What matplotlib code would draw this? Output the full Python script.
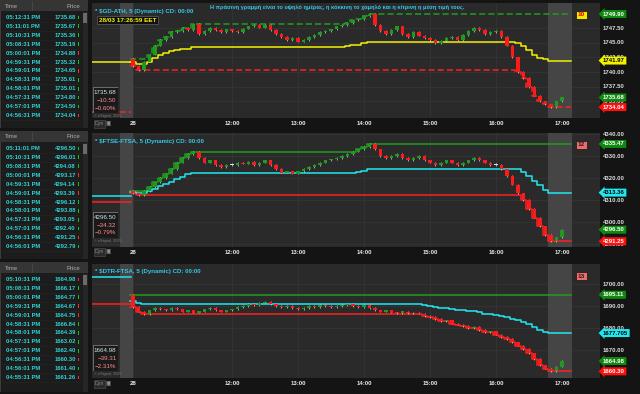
import numpy as np
import matplotlib
matplotlib.use("Agg")
import matplotlib.pyplot as plt
from matplotlib.patches import Rectangle
import matplotlib.transforms as mtrans

plt.rcParams['font.family'] = ['Liberation Sans', 'DejaVu Sans']

# ---------------- data ----------------
tick_hours = [10.5, 12, 13, 14, 15, 16, 17]
tick_labels = ['28', '12:00', '13:00', '14:00', '15:00', '16:00', '17:00']
bar_minutes = 5

ath_open = 1742.3
ath_close = [1741.0, 1740.4, 1741.8, 1743.0, 1744.5, 1745.5,
             1746.0, 1746.8, 1747.0, 1747.6, 1747.2, 1748.2,
             1746.5, 1747.0, 1747.5, 1747.2, 1746.8, 1747.3,
             1747.0, 1746.8, 1747.4, 1747.8, 1748.0, 1747.6,
             1748.0, 1747.2, 1746.5, 1746.0, 1745.5, 1745.8,
             1745.2, 1745.5, 1746.0, 1746.3, 1746.8, 1747.0,
             1747.3, 1747.8, 1748.0, 1748.4, 1748.8, 1749.0,
             1749.5, 1749.9, 1748.0, 1747.0, 1746.5, 1747.2,
             1747.8, 1746.5, 1746.0, 1746.8, 1746.2, 1745.8,
             1745.5, 1745.0, 1745.3, 1745.8, 1746.0, 1745.5,
             1746.3, 1747.0, 1747.5, 1747.2, 1746.5, 1746.8,
             1747.0, 1746.0, 1744.5, 1742.5, 1740.0, 1739.0,
             1737.5, 1736.0, 1735.0, 1734.5, 1734.04, 1735.0, 1735.68]

ftse_open = 4314.0
ftse_close = [4313.0, 4312.3, 4314.0, 4316.0, 4318.0, 4320.0,
              4322.0, 4324.0, 4327.0, 4329.0, 4331.0, 4331.8,
              4329.0, 4327.0, 4328.0, 4326.0, 4325.0, 4326.0,
              4326.0, 4327.0, 4326.5, 4327.5, 4326.0, 4327.0,
              4328.0, 4326.0, 4324.0, 4322.5, 4323.0, 4322.0,
              4323.0, 4324.0, 4325.0, 4326.0, 4327.0, 4328.0,
              4328.5, 4329.0, 4330.0, 4331.0, 4332.0, 4333.0,
              4334.0, 4335.47, 4333.0, 4330.0, 4329.0, 4330.0,
              4331.0, 4329.0, 4328.0, 4329.0, 4330.0, 4328.0,
              4327.0, 4326.0, 4327.0, 4328.0, 4327.0, 4326.0,
              4327.0, 4328.0, 4329.0, 4328.0, 4327.0, 4326.0,
              4326.0, 4324.0, 4321.0, 4317.0, 4313.0, 4310.0,
              4306.0, 4302.0, 4298.0, 4294.0, 4291.25, 4293.0, 4296.5]

dtr_open = 1695.11
dtr_close = [1689.5, 1687.5, 1686.4, 1688.0, 1689.0, 1688.5,
             1688.0, 1689.0, 1688.5, 1687.5, 1688.0, 1687.0,
             1687.5, 1688.5, 1689.0, 1688.0, 1687.5, 1688.0,
             1688.5, 1689.5, 1690.0, 1691.0, 1690.5, 1691.5,
             1692.0, 1691.0, 1690.0, 1689.5, 1690.0, 1689.0,
             1688.5, 1689.0, 1690.0, 1689.5, 1690.5, 1690.0,
             1689.5, 1690.0, 1690.5, 1691.0, 1690.0, 1689.5,
             1690.5, 1689.0, 1688.0, 1687.5, 1688.0, 1687.0,
             1686.8, 1687.5, 1686.6, 1687.0, 1686.5, 1685.5,
             1685.0, 1684.0, 1683.0, 1683.5, 1682.0, 1681.5,
             1681.0, 1680.0, 1680.5, 1679.0, 1678.0, 1678.5,
             1677.0, 1676.0, 1675.0, 1673.5, 1672.0, 1670.5,
             1668.5, 1666.0, 1663.0, 1661.5, 1660.3, 1662.5, 1664.98]

ath_ticks = [1747.5, 1745.0, 1742.5, 1740.0, 1737.5, 1735.0]
ftse_ticks = [4340.0, 4330.0, 4320.0, 4310.0, 4300.0, 4290.0]
dtr_ticks = [1700.0, 1690.0, 1680.0, 1670.0]

ath_rows = [("05:12:31 PM", "1735.68", 1), ("05:11:01 PM", "1735.67", 1), ("05:10:31 PM", "1735.36", 1),
            ("05:08:31 PM", "1735.19", 1), ("05:00:01 PM", "1734.88", -1), ("04:59:31 PM", "1735.32", 1),
            ("04:59:01 PM", "1734.65", -1), ("04:58:31 PM", "1735.61", 1), ("04:58:01 PM", "1735.01", 1),
            ("04:57:31 PM", "1734.80", 1), ("04:57:01 PM", "1734.50", 1), ("04:56:31 PM", "1734.04", -1)]
ftse_rows = [("05:11:01 PM", "4296.50", 1), ("05:10:31 PM", "4296.01", 1), ("05:08:31 PM", "4294.08", 1),
             ("05:00:01 PM", "4293.17", -1), ("04:59:31 PM", "4294.14", 1), ("04:59:01 PM", "4293.39", -1),
             ("04:58:31 PM", "4296.12", 1), ("04:58:01 PM", "4293.88", 1), ("04:57:31 PM", "4293.05", 1),
             ("04:57:01 PM", "4292.40", 1), ("04:56:31 PM", "4291.25", -1), ("04:56:01 PM", "4292.79", 1)]
dtr_rows = [("05:10:31 PM", "1664.98", -1), ("05:08:31 PM", "1666.17", 1), ("05:00:01 PM", "1664.77", 1),
            ("04:59:31 PM", "1664.67", -1), ("04:59:01 PM", "1664.75", -1), ("04:58:31 PM", "1666.84", 1),
            ("04:58:01 PM", "1664.39", 1), ("04:57:31 PM", "1663.02", 1), ("04:57:01 PM", "1662.40", 1),
            ("04:56:31 PM", "1660.30", -1), ("04:56:01 PM", "1661.40", 1), ("04:55:31 PM", "1661.26", -1)]

greek_note = "Η πράσινη γραμμή είναι το υψηλό ημέρας, η κόκκινη το χαμηλό και η κίτρινη η μέση τιμή τους."

# ---------------- layout helpers ----------------
W, H = 640, 394
fig = plt.figure(figsize=(6.4, 3.94), dpi=100)
fig.patch.set_facecolor('#141414')

def box(x0, y0, x1, y1):
    return [x0 / W, 1 - y1 / H, (x1 - x0) / W, (y1 - y0) / H]

CYAN_T = '#2fd3d3'
CH_X0, CH_X1 = 92, 600
def px_to_h(px):
    return 12 + (px - 232) / 66.0
XL = (px_to_h(CH_X0), px_to_h(CH_X1))


def table(y0, y1, rows):
    ax = fig.add_axes(box(0, y0, 88, y1))
    ax.set_xlim(0, 88); ax.set_ylim(y1 - y0, 0)
    ax.axis('off')
    ax.add_patch(Rectangle((0, 0), 88, y1 - y0, fc='#1c1c1c', ec='#444444', lw=0.6))
    ax.add_patch(Rectangle((0, 0), 88, 11, fc='#353535', ec='none'))
    ax.text(5, 6, "Time", color='#b0b0b0', fontsize=4.3, va='center', ha='left')
    ax.text(80, 6, "Price", color='#b0b0b0', fontsize=4.3, va='center', ha='right')
    ax.plot([32, 32], [1, 10], color='#555555', lw=0.4)
    ax.add_patch(Rectangle((82.5, 11.5), 5, y1 - y0 - 12, fc='#262626', ec='none'))
    ax.add_patch(Rectangle((83.3, 13), 3.4, 10, fc='#6a6a6a', ec='none'))
    for k, (t, p, d) in enumerate(rows):
        yy = 17.3 + k * 8.95
        ax.text(6, yy, t, color=CYAN_T, fontsize=4.2, fontweight='bold', va='center', ha='left')
        ax.text(76, yy, p, color=CYAN_T, fontsize=4.2, fontweight='bold', va='center', ha='right')
        ax.add_patch(Rectangle((77.6, yy - 1.8), 1.3, 3.4, fc='#19c219' if d > 0 else '#ff2a2a', ec='none'))
        ax.plot([3, 81], [yy + 4.4, yy + 4.4], color='#262626', lw=0.4)
    return ax


def label(ax, val, text, bg, fg):
    tr = mtrans.blended_transform_factory(ax.transAxes, ax.transData)
    xa = (603 - CH_X0) / (CH_X1 - CH_X0)
    if bg is None:
        ax.text(xa, val, text, transform=tr, color='#dcdcdc', fontsize=4.3, fontweight='bold',
                va='center', ha='left', clip_on=False)
    else:
        ax.text(xa, val, text, transform=tr, color=fg, fontsize=4.3, fontweight='bold',
                va='center', ha='left', clip_on=False, zorder=10,
                bbox=dict(boxstyle='larrow,pad=0.25', fc=bg, ec='none'))


def panel(y0, y1, yref, pref, scale, opn, closes, ticks, title, mean_col, dashed,
          hi_lab, mid_lab, lo_lab, last_lab, last_col, info, badge, badge_bg, badge_fg,
          prev_levels, xlab_y):
    ax = fig.add_axes(box(CH_X0, y0, CH_X1, y1))
    ax.set_facecolor('#2a2a2a')
    ytop = pref + (yref - y0) / scale
    ybot = pref - (y1 - yref) / scale
    ax.set_ylim(ybot, ytop)
    ax.set_xlim(*XL)
    for s in ax.spines.values():
        s.set_visible(False)
    ax.set_yticks([])
    ax.set_xticks(tick_hours)
    ax.set_xticklabels(tick_labels, color='#e8e8e8', fontsize=4.3, fontweight='bold')
    ax.tick_params(axis='x', length=0, pad=2.5)
    for t in tick_hours:
        ax.axvline(t, color='#363636', lw=0.5, zorder=0)
    for v in ticks:
        ax.axhline(v, color='#363636', lw=0.5, zorder=0)
    ax.axvspan(px_to_h(120), px_to_h(133), color='#454545', zorder=0.5, lw=0)
    ax.axvspan(px_to_h(548), px_to_h(572), color='#454545', zorder=0.5, lw=0)

    closes = np.asarray(closes, float)
    opens = np.concatenate([[opn], closes[:-1]])
    n = len(closes)
    t = 10.5 + np.arange(n) * bar_minutes / 60.0
    bw = 0.052
    hi = np.maximum.accumulate(np.maximum(opens, closes))
    lo = np.minimum.accumulate(np.minimum(opens, closes))
    mid = (hi + lo) / 2
    tx = np.concatenate([t - 0.04, [px_to_h(571)]])
    ls = (0, (4, 2)) if dashed else '-'
    lw = 1.1
    ax.step(tx, np.concatenate([hi, hi[-1:]]), where='post', color='#1f9e1f', lw=lw, ls=ls, zorder=2)
    ax.step(tx, np.concatenate([lo, lo[-1:]]), where='post', color='#ff2020', lw=lw, ls=ls, zorder=2)
    ax.step(tx, np.concatenate([mid, mid[-1:]]), where='post', color=mean_col, lw=lw, zorder=2)
    for (lv, col, dsh) in prev_levels:
        ax.plot([XL[0], 10.47], [lv, lv], color=col, lw=lw, ls=(0, (4, 2)) if dsh else '-', zorder=2)

    min_h = 0.6 / scale
    for i in range(n):
        o, c = opens[i], closes[i]
        if c > o:
            col = '#1f9a1f'
        elif c < o:
            col = '#ff1a1a'
        else:
            col = '#e0e0e0'
        b = min(o, c)
        h = max(abs(c - o), min_h)
        ax.vlines(t[i], b - 0.75 / scale, b + h + 0.75 / scale, color='#d8d8d8', lw=0.5, zorder=3)
        ax.add_patch(Rectangle((t[i] - bw / 2, b), bw, h, fc=col, ec='none', zorder=4))

    ax.text((95 - CH_X0) / (CH_X1 - CH_X0), 1 - 8 / (y1 - y0), title, transform=ax.transAxes,
            color='#33c8e8', fontsize=4.4, fontweight='bold', va='center', ha='left')
    for v in ticks:
        label(ax, v, f"{v:.2f}", None, None)
    label(ax, hi_lab, f"{hi_lab:.2f}", '#0f8a0f', 'white')
    label(ax, mid_lab[0], mid_lab[1], mean_col, 'black')
    label(ax, last_lab, f"{last_lab:.2f}", last_col, 'white')
    label(ax, lo_lab, f"{lo_lab:.2f}", '#ff1010', 'white')
    bx = (578 - CH_X0) / (CH_X1 - CH_X0)
    ax.text(bx, 1 - 12 / (y1 - y0), badge, transform=ax.transAxes, color=badge_fg, fontsize=4.6,
            fontweight='bold', va='center', ha='left',
            bbox=dict(boxstyle='square,pad=0.25', fc=badge_bg, ec='#202020', lw=0.6))
    ib_top = info[0]
    ax_i = fig.add_axes(box(93, ib_top, 118, ib_top + 26))
    ax_i.set_xlim(0, 25); ax_i.set_ylim(26, 0); ax_i.axis('off')
    ax_i.add_patch(Rectangle((0.3, 0.3), 24.4, 25.4, fc='#1a1a1a', ec='#8a8a8a', lw=0.5))
    ax_i.text(23.5, 5, info[1], color='#cfe8e8', fontsize=4.5, ha='right', va='center')
    ax_i.text(23.5, 13, info[2], color='#ff8c8c', fontsize=4.5, ha='right', va='center')
    ax_i.text(23.5, 21, info[3], color='#ff8c8c', fontsize=4.5, ha='right', va='center')
    fig.text(94 / W, 1 - (ib_top + 29) / H, "© eSignal, 2025", color='#7a7a7a', fontsize=2.8, va='center')
    fig.text(95 / W, 1 - xlab_y / H, "Dyn", color='#8a8a8a', fontsize=3.8, va='center',
             bbox=dict(boxstyle='square,pad=0.2', fc='#2a2a2a', ec='#555555', lw=0.4))
    fig.text(106 / W, 1 - xlab_y / H, "▣", color='#9a9a9a', fontsize=4, va='center')
    return ax


table(0, 128, ath_rows)
table(131, 259, ftse_rows)
table(262, 392, dtr_rows)

p1 = panel(3, 118, 14, 1749.9, 5.87, ath_open, ath_close, ath_ticks,
           "* $GD-ATH, 5 (Dynamic) CD: 00:00", '#f2f200', True,
           1749.90, (1741.97, "1741.97"), 1734.04, 1735.68, '#0f8a0f',
           (87, "1735.68", "\u221210.50", "\u22120.60%"), "10", '#f5e600', '#e00000',
           [(1741.7, '#f2f200', False), (1733.2, '#ff2020', True)], 124)
p2 = panel(133, 247, 156, 4330.0, 2.2, ftse_open, ftse_close, ftse_ticks,
           "* $FTSE-FTSA, 5 (Dynamic) CD: 00:00", '#20e8f0', False,
           4335.47, (4313.36, "4313.36"), 4291.25, 4296.50, '#0f8a0f',
           (212, "4296.50", "\u221234.32", "\u22120.79%"), "12", '#f06a6a', '#202020',
           [(4312.0, '#20e8f0', False), (4309.0, '#ff2020', False)], 252)
p3 = panel(264, 378, 306, 1690.0, 2.2, dtr_open, dtr_close, dtr_ticks,
           "* $DTR-FTSA, 5 (Dynamic) CD: 00:00", '#20e8f0', False,
           1695.11, (1677.705, "1677.705"), 1660.30, 1664.98, '#0f8a0f',
           (345, "1664.98", "\u221239.31", "\u22122.31%"), "13", '#f06a6a', '#202020',
           [(1703.0, '#20e8f0', False), (1690.8, '#ff2020', False)], 384)

fig.text(210 / W, 1 - 7 / H, greek_note, color='#33c8e8', fontsize=4.1, fontweight='bold', va='center')
fig.text(99 / W, 1 - 20 / H, "28/03 17:26:59 EET", color='#f5f500', fontsize=4.6, fontweight='bold',
         va='center', bbox=dict(boxstyle='square,pad=0.25', fc='#101010', ec='#606060', lw=0.5))

fig.savefig("out.png", dpi=100, facecolor=fig.get_facecolor())
